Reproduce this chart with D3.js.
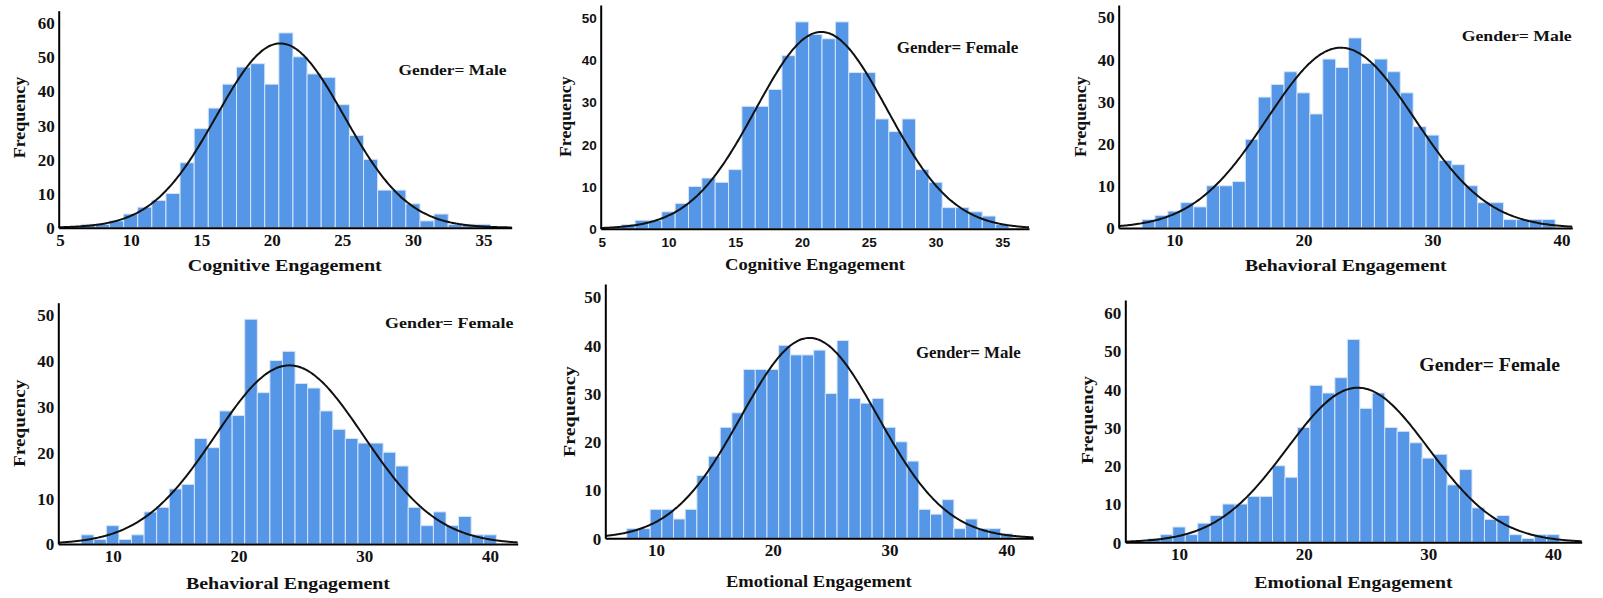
<!DOCTYPE html>
<html><head><meta charset="utf-8">
<script src="https://cdn.jsdelivr.net/npm/d3@7"></script>
<style>body{margin:0;background:#fff;}svg{display:block;}</style>
</head><body>
<svg id="chart" width="1603" height="598"></svg>
<script>
// ---------- data ----------
const binsCogMale   = [7,8,9,10,11,12,13,14,15,16,17,18,19,20,21,22,23,24,25,26,27,28,29,30,31,32,33,34,35];
const countsCogMale = [1,1,2,4,6,8,10,19,29,35,42,47,48,42,57,50,45,44,36,27,20,11,11,7,2,4,1,1,1];

const binsCogFemale   = [7,8,9,10,11,12,13,14,15,16,17,18,19,20,21,22,23,24,25,26,27,28,29,30,31,32,33,34,35];
const countsCogFemale = [1,2,2,4,6,10,12,11,14,29,29,33,41,49,46,45,49,37,37,26,23,26,14,11,5,5,4,3,1];

const binsBehMale   = [8,9,10,11,12,13,14,15,16,17,18,19,20,21,22,23,24,25,26,27,28,29,30,31,32,33,34,35,36,37,38,39];
const countsBehMale = [2,3,4,6,5,10,10,11,21,31,34,37,32,27,40,38,45,39,40,37,32,24,22,16,15,10,6,6,2,2,2,2];

const binsBehFemale   = [8,9,10,11,12,13,14,15,16,17,18,19,20,21,22,23,24,25,26,27,28,29,30,31,32,33,34,35,36,37,38,39,40];
const countsBehFemale = [2,1,4,1,2,7,8,12,13,23,21,29,28,49,33,40,42,35,34,29,25,23,22,22,20,17,8,4,7,4,6,2,2];

const binsEmoMale   = [8,9,10,11,12,13,14,15,16,17,18,19,20,21,22,23,24,25,26,27,28,29,30,31,32,33,34,35,36,37,38,39,40];
const countsEmoMale = [2,2,6,6,4,6,13,17,23,26,35,35,35,40,38,38,39,30,41,29,28,29,23,20,16,6,5,8,2,4,2,2,1];

const binsEmoFemale   = [8,9,10,11,12,13,14,15,16,17,18,19,20,21,22,23,24,25,26,27,28,29,30,31,32,33,34,35,36,37,38,39,40];
const countsEmoFemale = [1,2,4,2,5,7,10,10,12,12,20,17,30,41,39,43,53,35,39,30,29,26,22,23,15,19,9,6,7,2,1,2,2];

// normal-curve parameters (mean, sd)
const normCogMale   = [20.6, 4.52];
const normCogFemale = [21.45, 4.92];
const normBehMale   = [22.9, 5.71];
const normBehFemale = [24.05, 5.89];
const normEmoMale   = [23.14, 5.87];
const normEmoFemale = [24.34, 5.68];

const xTicksCog = [5,10,15,20,25,30,35];
const xTicksWide = [10,20,30,40];
const yTicks50 = [0,10,20,30,40,50];
const yTicks60 = [0,10,20,30,40,50,60];

const titles = ["Cognitive Engagement","Cognitive Engagement","Behavioral Engagement","Behavioral Engagement","Emotional Engagement","Emotional Engagement"];
const genders = ["Gender= Male","Gender= Female","Gender= Male","Gender= Female","Gender= Male","Gender= Female"];

// ---------- layout ----------
const panels = [
  {bins:binsCogMale, counts:countsCogMale, norm:normCogMale, xt:xTicksCog, yt:yTicks60,
   L:58.7, R:511.7, T:10.7, B:227.7, xd:[4.9,37.0], yd:[0,63.5], tickFont:"Liberation Serif", tickSize:17,
   g:{x:452.5,y:75,s:15,len:108}, t:{x:284.7,y:270.7,len:194}, f:{x:24.5,y:117.5,len:81.7}},
  {bins:binsCogFemale, counts:countsCogFemale, norm:normCogFemale, xt:xTicksCog, yt:yTicks50,
   L:600.7, R:1029, T:5, B:228.7, xd:[4.925,37.0], yd:[0,53.0], tickFont:"Liberation Sans", tickSize:13.5,
   g:{x:957.5,y:53.3,s:16,len:121.7}, t:{x:815,y:270,len:180}, f:{x:570.5,y:116.7,len:80.7}},
  {bins:binsBehMale, counts:countsBehMale, norm:normBehMale, xt:xTicksWide, yt:yTicks50,
   L:1118.7, R:1572.3, T:5, B:228, xd:[5.69,40.83], yd:[0,52.8], tickFont:"Liberation Serif", tickSize:17,
   g:{x:1516.7,y:40.7,s:15,len:110}, t:{x:1345.8,y:270.7,len:201.7}, f:{x:1085.5,y:116.7,len:80.7}},
  {bins:binsBehFemale, counts:countsBehFemale, norm:normBehFemale, xt:xTicksWide, yt:yTicks50,
   L:58.3, R:517.7, T:302.7, B:544, xd:[5.68,42.2], yd:[0,52.6], tickFont:"Liberation Serif", tickSize:17,
   g:{x:449.2,y:328.3,s:15,len:128.3}, t:{x:288,y:589.3,len:204}, f:{x:24.5,y:423.3,len:87.3}},
  {bins:binsEmoMale, counts:countsEmoMale, norm:normEmoMale, xt:xTicksWide, yt:yTicks50,
   L:605.3, R:1033.3, T:284, B:538.3, xd:[5.66,42.3], yd:[0,52.7], tickFont:"Liberation Serif", tickSize:17,
   g:{x:968.3,y:357.7,s:17,len:104.7}, t:{x:818.8,y:586.7,len:185.7}, f:{x:574.5,y:411.7,len:90.7}},
  {bins:binsEmoFemale, counts:countsEmoFemale, norm:normEmoFemale, xt:xTicksWide, yt:yTicks60,
   L:1125.3, R:1581.7, T:300, B:542.3, xd:[5.69,42.3], yd:[0,63.3], tickFont:"Liberation Serif", tickSize:17,
   g:{x:1489.7,y:371,s:19,len:140.7}, t:{x:1353.5,y:588.3,len:198.4}, f:{x:1092.5,y:420,len:88}}
];

const svg = d3.select("#chart");
const BAR = "#5596e6";

panels.forEach((p, i) => {
  const x = d3.scaleLinear().domain(p.xd).range([p.L, p.R]);
  const y = d3.scaleLinear().domain(p.yd).range([p.B, p.T]);
  const g = svg.append("g");

  // bars
  g.selectAll("rect.bar").data(p.bins.map((b, k) => ({b, c: p.counts[k]})))
    .enter().append("rect")
    .attr("x", d => x(d.b - 0.5))
    .attr("width", d => x(d.b + 0.5) - x(d.b - 0.5))
    .attr("y", d => y(d.c))
    .attr("height", d => y(0) - y(d.c))
    .attr("fill", BAR)
    .attr("stroke", "#d6e5f8")
    .attr("stroke-width", 1);

  // normal curve
  const n = d3.sum(p.counts);
  const [mu, sd] = p.norm;
  const pdf = v => n / (sd * Math.sqrt(2 * Math.PI)) * Math.exp(-0.5 * ((v - mu) / sd) ** 2);
  const pts = d3.range(0, 301).map(k => p.xd[0] + (p.xd[1] - p.xd[0]) * k / 300);
  g.append("path")
    .attr("d", d3.line().x(v => x(v)).y(v => y(pdf(v))).curve(d3.curveBasis)(pts))
    .attr("fill", "none").attr("stroke", "#111").attr("stroke-width", 2);

  // axes
  const xa = g.append("g").attr("transform", `translate(0,${p.B})`)
    .call(d3.axisBottom(x).tickValues(p.xt).tickSize(0).tickPadding(0).tickFormat(d3.format("d")));
  xa.select(".domain").attr("stroke", "#000").attr("stroke-width", 2);
  xa.selectAll("text").attr("dy", null).attr("y", 18)
    .attr("font-family", p.tickFont).attr("font-weight", "bold").attr("font-size", p.tickSize).attr("fill", "#111");

  const ya = g.append("g").attr("transform", `translate(${p.L},0)`)
    .call(d3.axisLeft(y).tickValues(p.yt).tickSize(0).tickPadding(4).tickFormat(d3.format("d")));
  ya.select(".domain").attr("stroke", "#000").attr("stroke-width", 2);
  ya.selectAll("text").attr("dy", "0.35em")
    .attr("font-family", p.tickFont).attr("font-weight", "bold").attr("font-size", p.tickSize).attr("fill", "#111");

  // titles
  g.append("text").attr("x", p.t.x).attr("y", p.t.y).attr("text-anchor", "middle")
    .attr("font-family", "Liberation Serif").attr("font-weight", "bold").attr("font-size", 17)
    .attr("textLength", p.t.len).attr("lengthAdjust", "spacingAndGlyphs").attr("fill", "#111")
    .text(titles[i]);

  g.append("text").attr("transform", `translate(${p.f.x},${p.f.y}) rotate(-90)`).attr("text-anchor", "middle")
    .attr("font-family", "Liberation Serif").attr("font-weight", "bold").attr("font-size", 17)
    .attr("textLength", p.f.len).attr("lengthAdjust", "spacingAndGlyphs").attr("fill", "#111")
    .text("Frequency");

  g.append("text").attr("x", p.g.x).attr("y", p.g.y).attr("text-anchor", "middle")
    .attr("font-family", "Liberation Serif").attr("font-weight", "bold").attr("font-size", p.g.s)
    .attr("textLength", p.g.len).attr("lengthAdjust", "spacingAndGlyphs").attr("fill", "#111")
    .text(genders[i]);
});
</script>
</body></html>
